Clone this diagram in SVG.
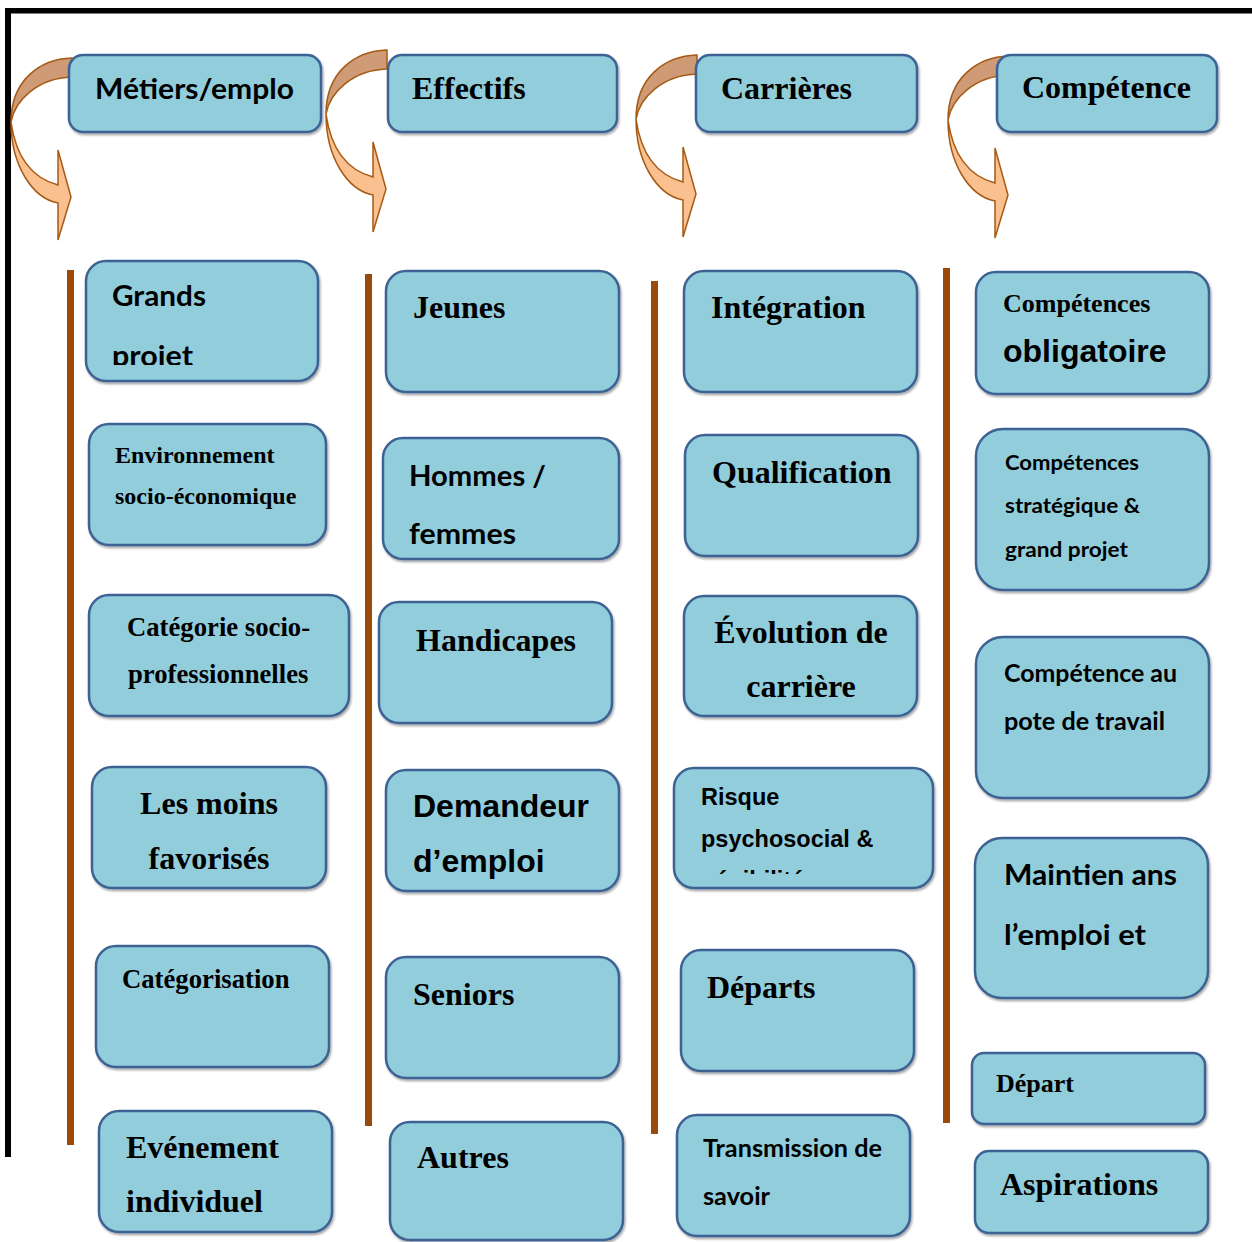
<svg xmlns="http://www.w3.org/2000/svg" width="1252" height="1242" viewBox="0 0 1252 1242">
<defs>
<style>
.bx{fill:#92CDDC;stroke:#3D6294;stroke-width:2.5;filter:url(#sh)}
.s{font-family:"Liberation Serif","Times New Roman",serif;font-weight:bold;fill:#000}
.c{font-family:Lato,"Liberation Sans",sans-serif;font-weight:bold;fill:#000}
.a{font-family:"Liberation Sans",Arial,sans-serif;font-weight:bold;fill:#000}
.ad{fill:#CE9B76;stroke:#A65A14;stroke-width:1.5}
.al{fill:#FAC090;stroke:#A65A14;stroke-width:1.5}
.bar{fill:#9C4A0A}
</style>
<filter id="sh" x="-5%" y="-5%" width="112%" height="115%">
<feDropShadow dx="1.2" dy="2" stdDeviation="1.2" flood-color="#000" flood-opacity="0.35"/>
</filter>
<g id="carrow">
<path class="ad" d="M72,58 C40,59 11,80 11,122 C15,100 38,78 72,77 Z"/>
<path class="al" d="M11,122 C11,165 32,198 58,203 L58,240 L71,197 L58,150 L58,185 C32,178 16,158 11,122 Z"/>
</g>
<clipPath id="clipGrands"><rect x="86" y="261" width="232" height="104"/></clipPath>
<clipPath id="clipRisque"><rect x="674" y="768" width="259" height="106"/></clipPath>
</defs>

<g id="frame">
<rect x="5" y="8" width="1247" height="5.5" fill="#000"/>
<rect x="5" y="8" width="6" height="1149" fill="#000"/>
</g>

<g id="dividers">
<rect class="bar" x="67" y="270" width="7" height="875"/>
<rect class="bar" x="365" y="274" width="7" height="852"/>
<rect class="bar" x="651" y="281" width="7" height="853"/>
<rect class="bar" x="943" y="268" width="7" height="855"/>
</g>

<g id="connectors">
<use href="#carrow"/>
<use href="#carrow" transform="translate(315,-8)"/>
<use href="#carrow" transform="translate(625,-3)"/>
<use href="#carrow" transform="translate(937,-2)"/>
</g>

<!-- headers -->
<g id="h-metiers"><rect class="bx" x="69" y="55" width="252" height="77" rx="14"/>
<text class="c" x="95" y="99" font-size="29" textLength="199" lengthAdjust="spacingAndGlyphs">Métiers/emplo</text></g>
<g id="h-effectifs"><rect class="bx" x="388" y="55" width="229" height="77" rx="14"/>
<text class="s" x="412" y="99" font-size="32">Effectifs</text></g>
<g id="h-carrieres"><rect class="bx" x="696" y="55" width="221" height="77" rx="14"/>
<text class="s" x="721" y="99" font-size="32">Carrières</text></g>
<g id="h-competence"><rect class="bx" x="997" y="55" width="220" height="77" rx="14"/>
<text class="s" x="1022" y="98" font-size="32">Compétence</text></g>

<!-- column 1 -->
<g id="n-grands"><rect class="bx" x="86" y="261" width="232" height="120" rx="20"/>
<g clip-path="url(#clipGrands)">
<text class="c" x="112" y="306" font-size="29" textLength="94" lengthAdjust="spacingAndGlyphs">Grands</text>
<text class="c" x="112" y="366" font-size="29" textLength="81" lengthAdjust="spacingAndGlyphs">projet</text>
</g></g>
<g id="n-env"><rect class="bx" x="89" y="424" width="237" height="121" rx="20"/>
<text class="s" x="115" y="463" font-size="24">Environnement</text>
<text class="s" x="115" y="504" font-size="24">socio-économique</text></g>
<g id="n-csp"><rect class="bx" x="89" y="595" width="260" height="121" rx="20"/>
<text class="s" x="127" y="636" font-size="26.7">Catégorie socio-</text>
<text class="s" x="128" y="683" font-size="26.7">professionnelles</text></g>
<g id="n-moins"><rect class="bx" x="92" y="767" width="234" height="121" rx="20"/>
<text class="s" x="209" y="814" font-size="32" text-anchor="middle">Les moins</text>
<text class="s" x="209" y="869" font-size="32" text-anchor="middle">favorisés</text></g>
<g id="n-categ"><rect class="bx" x="96" y="946" width="233" height="121" rx="20"/>
<text class="s" x="122" y="988" font-size="26.7">Catégorisation</text></g>
<g id="n-event"><rect class="bx" x="99" y="1111" width="233" height="121" rx="20"/>
<text class="s" x="126" y="1158" font-size="32">Evénement</text>
<text class="s" x="126" y="1212" font-size="32">individuel</text></g>

<!-- column 2 -->
<g id="n-jeunes"><rect class="bx" x="386" y="271" width="233" height="121" rx="20"/>
<text class="s" x="413" y="318" font-size="32">Jeunes</text></g>
<g id="n-hommes"><rect class="bx" x="383" y="438" width="236" height="121" rx="20"/>
<text class="c" x="409" y="486" font-size="29" textLength="137" lengthAdjust="spacingAndGlyphs">Hommes /</text>
<text class="c" x="409" y="544" font-size="29" textLength="107" lengthAdjust="spacingAndGlyphs">femmes</text></g>
<g id="n-handi"><rect class="bx" x="379" y="602" width="233" height="121" rx="20"/>
<text class="s" x="416" y="651" font-size="32">Handicapes</text></g>
<g id="n-demandeur"><rect class="bx" x="386" y="770" width="233" height="121" rx="20"/>
<text class="a" x="413" y="817" font-size="32">Demandeur</text>
<text class="a" x="413" y="872" font-size="32">d’emploi</text></g>
<g id="n-seniors"><rect class="bx" x="386" y="957" width="233" height="121" rx="20"/>
<text class="s" x="413" y="1005" font-size="32">Seniors</text></g>
<g id="n-autres"><rect class="bx" x="390" y="1122" width="233" height="118" rx="20"/>
<text class="s" x="417" y="1168" font-size="32">Autres</text></g>

<!-- column 3 -->
<g id="n-integ"><rect class="bx" x="684" y="271" width="233" height="121" rx="20"/>
<text class="s" x="711" y="318" font-size="32">Intégration</text></g>
<g id="n-qualif"><rect class="bx" x="685" y="435" width="233" height="121" rx="20"/>
<text class="s" x="712" y="483" font-size="32">Qualification</text></g>
<g id="n-evol"><rect class="bx" x="684" y="596" width="233" height="120" rx="20"/>
<text class="s" x="801" y="643" font-size="32" text-anchor="middle">Évolution de</text>
<text class="s" x="801" y="697" font-size="32" text-anchor="middle">carrière</text></g>
<g id="n-risque"><rect class="bx" x="674" y="768" width="259" height="120" rx="20"/>
<g clip-path="url(#clipRisque)">
<text class="a" x="701" y="805" font-size="23.5">Risque</text>
<text class="a" x="701" y="847" font-size="23.5">psychosocial &amp;</text>
<text class="a" x="701" y="888" font-size="23.5">pénibilité</text>
</g></g>
<g id="n-departs"><rect class="bx" x="681" y="950" width="233" height="121" rx="20"/>
<text class="s" x="707" y="998" font-size="32">Départs</text></g>
<g id="n-transm"><rect class="bx" x="677" y="1115" width="233" height="121" rx="20"/>
<text class="c" x="703" y="1157" font-size="24" textLength="179" lengthAdjust="spacingAndGlyphs">Transmission de</text>
<text class="c" x="703" y="1205" font-size="24" textLength="67" lengthAdjust="spacingAndGlyphs">savoir</text></g>

<!-- column 4 -->
<g id="n-oblig"><rect class="bx" x="976" y="272" width="233" height="122" rx="20"/>
<text class="s" x="1003" y="312" font-size="26">Compétences</text>
<text class="a" x="1003" y="362" font-size="32">obligatoire</text></g>
<g id="n-strat"><rect class="bx" x="976" y="429" width="233" height="161" rx="27"/>
<text class="c" x="1005" y="470" font-size="21.6" textLength="134" lengthAdjust="spacingAndGlyphs">Compétences</text>
<text class="c" x="1005" y="513" font-size="21.6" textLength="135" lengthAdjust="spacingAndGlyphs">stratégique &amp;</text>
<text class="c" x="1005" y="557" font-size="21.6" textLength="123" lengthAdjust="spacingAndGlyphs">grand projet</text></g>
<g id="n-poste"><rect class="bx" x="976" y="637" width="233" height="161" rx="27"/>
<text class="c" x="1004" y="682" font-size="24" textLength="173" lengthAdjust="spacingAndGlyphs">Compétence au</text>
<text class="c" x="1004" y="730" font-size="24" textLength="161" lengthAdjust="spacingAndGlyphs">pote de travail</text></g>
<g id="n-maintien"><rect class="bx" x="975" y="838" width="233" height="160" rx="27"/>
<text class="c" x="1004" y="885" font-size="29" textLength="173" lengthAdjust="spacingAndGlyphs">Maintien ans</text>
<text class="c" x="1004" y="945" font-size="29" textLength="142" lengthAdjust="spacingAndGlyphs">l’emploi et</text></g>
<g id="n-depart"><rect class="bx" x="972" y="1053" width="233" height="71" rx="12"/>
<text class="s" x="996" y="1092" font-size="26">Départ</text></g>
<g id="n-aspir"><rect class="bx" x="975" y="1151" width="233" height="82" rx="14"/>
<text class="s" x="1000" y="1195" font-size="32">Aspirations</text></g>
</svg>
